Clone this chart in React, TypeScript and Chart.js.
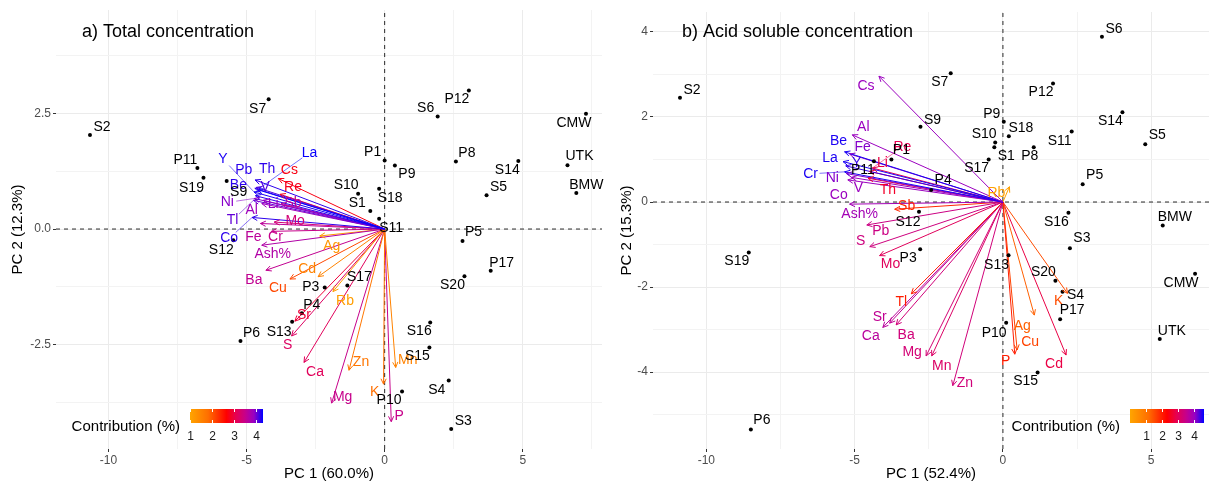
import React, { useEffect, useRef } from "react";
import { Chart, registerables } from "chart.js";
Chart.register(...registerables);

const FONT = "'Liberation Sans', Arial, Helvetica, sans-serif";

// ---------------- Panel a) Total concentration ----------------
const A_SAMPLE_NAMES = ["S2", "S7", "P11", "S19", "S9", "P1", "P9", "S10", "S18", "S1", "S11", "S12", "P3", "S17", "P4", "S13", "P6", "P10", "S16", "S15", "S4", "S3", "S20", "P17", "S6", "P12", "CMW", "P8", "S14", "UTK", "S5", "BMW", "P5"];
const A_SAMPLE_PC1 = [-10.67, -4.2, -6.78, -6.56, -5.72, 0.0, 0.37, -0.96, -0.2, -0.52, -0.2, -5.48, -2.17, -1.35, -3.0, -3.35, -5.22, 0.63, 1.65, 1.62, 2.32, 2.41, 2.89, 3.84, 1.92, 3.05, 7.29, 2.58, 4.84, 6.62, 3.69, 6.94, 2.82];
const A_SAMPLE_PC2 = [2.03, 2.8, 1.32, 1.11, 1.04, 1.48, 1.37, 0.76, 0.87, 0.39, 0.22, -0.24, -1.26, -1.22, -1.82, -2.0, -2.42, -3.51, -2.02, -2.56, -3.27, -4.32, -1.02, -0.9, 2.43, 2.99, 2.49, 1.46, 1.47, 1.38, 0.73, 0.78, -0.26];
const A_VAR_NAMES = ["La", "Y", "Pb", "Th", "Be", "V", "Ni", "Tl", "Co", "Al", "Li", "Sb", "Mo", "Fe", "Cr", "Cs", "Re", "Ash%", "Ag", "Cd", "Cu", "Ba", "Rb", "Sr", "S", "Ca", "Zn", "Mg", "K", "Mn", "P"];
const A_VAR_PC1 = [-4.6, -4.73, -4.7, -4.69, -4.68, -4.65, -4.72, -4.75, -4.8, -4.45, -4.4, -3.75, -4.0, -4.5, -4.1, -3.85, -3.79, -4.45, -2.35, -2.41, -3.43, -4.3, -1.87, -3.25, -3.37, -2.92, -1.29, -1.92, -0.04, 0.4, 0.24];
const A_VAR_PC2 = [0.85, 0.8, 0.88, 1.06, 0.72, 0.9, 0.66, 0.62, 0.25, 0.55, 0.62, 0.55, 0.15, 0.12, -0.05, 1.09, 0.75, -0.35, -0.15, -1.03, -1.08, -0.89, -1.35, -1.99, -2.31, -2.88, -3.05, -3.76, -3.35, -2.99, -4.16];
const A_VAR_CONTRIB = [4.3, 4.25, 4.2, 4.2, 4.2, 4.1, 3.95, 4.05, 4.2, 3.85, 3.9, 3.6, 3.35, 3.6, 3.5, 2.75, 2.8, 3.7, 1.2, 1.5, 2.1, 3.55, 1.1, 2.95, 3.2, 3.15, 1.7, 3.5, 1.8, 1.5, 3.5];
const A_X_TICKS = [-10, -7.5, -5, -2.5, 0, 2.5, 5, 7.5];
const A_X_MAJOR = [-10, -5, 0, 5];
const A_Y_TICKS = [-3.75, -2.5, -1.25, 0, 1.25, 2.5, 3.75];
const A_Y_MAJOR = [-2.5, 0, 2.5];
const A_LEGEND_TICKS = [1, 2, 3, 4];
const A_CONTRIB_RANGE = [0.98, 4.32];

// ---------------- Panel b) Acid soluble concentration ----------------
const B_SAMPLE_NAMES = ["S2", "S7", "S9", "P9", "S18", "S10", "S1", "S17", "P8", "S11", "P12", "S6", "S14", "S5", "P5", "S16", "BMW", "S3", "S13", "S20", "S4", "P17", "CMW", "UTK", "P10", "S15", "S19", "P6", "P11", "P1", "P4", "S12", "P3"];
const B_SAMPLE_PC1 = [-10.89, -1.76, -2.78, 0.03, 0.2, -0.26, -0.29, -0.48, 1.04, 2.32, 1.69, 3.34, 4.03, 4.8, 2.69, 2.21, 5.39, 2.26, 0.19, 1.77, 2.01, 1.93, 6.48, 5.29, 0.11, 1.17, -8.57, -8.5, -4.35, -3.76, -2.42, -2.83, -2.79];
const B_SAMPLE_PC2 = [2.45, 3.03, 1.77, 1.89, 1.55, 1.4, 1.29, 1.0, 1.29, 1.66, 2.79, 3.89, 2.11, 1.36, 0.42, -0.25, -0.55, -1.09, -1.25, -1.85, -2.11, -2.76, -1.69, -3.22, -2.84, -4.01, -1.19, -5.35, 0.96, 1.0, 0.28, -0.23, -1.11];
const B_VAR_NAMES = ["Cs", "Al", "Be", "Fe", "La", "Y", "Cr", "Ni", "V", "Co", "Re", "Li", "Th", "Ash%", "Sb", "Pb", "S", "Mo", "Tl", "Sr", "Ca", "Ba", "Mg", "Mn", "Zn", "P", "Cu", "Ag", "Cd", "K", "Rb"];
const B_VAR_PC1 = [-4.18, -5.08, -5.34, -5.17, -5.39, -5.3, -5.34, -5.28, -5.11, -5.23, -4.4, -4.5, -4.55, -5.17, -3.65, -4.59, -4.49, -4.16, -3.09, -3.82, -4.05, -3.6, -2.59, -2.4, -1.69, 0.4, 0.48, 1.06, 2.13, 2.18, 0.22];
const B_VAR_PC2 = [2.96, 1.58, 1.18, 1.13, 0.95, 0.85, 0.71, 0.67, 0.58, 0.52, 0.8, 0.72, 0.56, -0.05, -0.17, -0.54, -1.05, -1.26, -2.16, -2.85, -2.95, -2.89, -3.62, -3.62, -4.32, -3.58, -3.48, -2.66, -3.6, -2.15, 0.36];
const B_VAR_CONTRIB = [4.0, 4.0, 4.5, 4.1, 4.5, 4.4, 4.5, 4.1, 4.0, 4.0, 2.9, 2.8, 2.6, 3.9, 1.9, 3.4, 3.35, 3.0, 2.0, 3.55, 3.65, 3.3, 3.25, 3.1, 3.3, 2.0, 1.6, 1.3, 2.8, 1.5, 0.1];
const B_X_TICKS = [-10, -7.5, -5, -2.5, 0, 2.5, 5];
const B_X_MAJOR = [-10, -5, 0, 5];
const B_Y_TICKS = [-5, -4, -3, -2, -1, 0, 1, 2, 3, 4];
const B_Y_MAJOR = [-4, -2, 0, 2, 4];
const B_LEGEND_TICKS = [1, 2, 3, 4];
const B_CONTRIB_RANGE = [0.0, 4.6];

// ---------------- layout (label nudges in pixels, not data) ----------------
const A_SAMPLE_NUDGE: Record<string, [number, number]> = {
  S2: [12, -8], S7: [-11, 10], P11: [-12, -8], S19: [-12, 11], S9: [12, 11], P1: [-12, -8], P9: [12, 9],
  S10: [-12, -9], S18: [11, 9], S1: [-13, -8], S11: [12, 9], S12: [-12, 10], P3: [-14, 0], S17: [12, -8],
  P4: [10, -8], S13: [-13, 10], P6: [11, -8], P10: [-13, 9], S16: [-11, 9], S15: [-12, 9], S4: [-12, 10],
  S3: [12, -8], S20: [-12, 9], P17: [11, -8], S6: [-12, -8], P12: [-12, 9], CMW: [-12, 9], P8: [11, -8],
  S14: [-11, 9], UTK: [12, -9], S5: [12, -8], BMW: [10, -8], P5: [11, -9],
};
const A_VAR_NUDGE: Record<string, [number, number]> = {
  La: [52, -37], Y: [-31, -33], Pb: [-11, -18], Th: [12, -11], Be: [-17, -11], V: [9, 0], Ni: [-27, 4],
  Tl: [-21, 20], Co: [-23, 21], Al: [-10, 7], Li: [10, 4], Sb: [12, 0], Mo: [21, -1], Fe: [-7, 14],
  Cr: [4, 6], Cs: [11, -8], Re: [13, -7], "Ash%": [11, 9], Ag: [12, 10], Cd: [-11, -8], Cu: [-12, 9],
  Ba: [-12, 10], Rb: [12, 10], Sr: [9, -6], S: [-4, 9], Ca: [11, 10], Zn: [12, -8], Mg: [11, -6],
  K: [-9, 8], Mn: [12, -7], P: [8, -6],
};
const B_SAMPLE_NUDGE: Record<string, [number, number]> = {
  S2: [12, -8], S7: [-11, 9], S9: [12, -7], P9: [-12, -8], S18: [12, -8], S10: [-11, -8], S1: [12, 9],
  S17: [-12, 9], P8: [-4, 9], S11: [-12, 10], P12: [-12, 9], S6: [12, -8], S14: [-12, 9], S5: [12, -9],
  P5: [12, -9], S16: [-12, 9], BMW: [12, -8], S3: [12, -10], S13: [-12, 10], S20: [-12, -9], S4: [13, 3],
  P17: [12, -9], CMW: [-14, 9], UTK: [12, -8], P10: [-12, 10], S15: [-12, 9], S19: [-12, 9], P6: [11, -9],
  P11: [-11, 9], P1: [10, -9], P4: [12, -10], S12: [-11, 10], P3: [-12, 9],
};
const B_VAR_NUDGE: Record<string, [number, number]> = {
  Cs: [-13, 10], Al: [11, -8], Be: [-6, -11], Fe: [13, -7], La: [-13, -3], Y: [11, -3], Cr: [-34, 2],
  Ni: [-14, 5], V: [7, 11], Co: [-9, 15], Re: [30, -21], Li: [13, -8], Th: [20, 12], "Ash%": [10, 10],
  Sb: [12, -3], Pb: [14, 6], S: [-9, -6], Mo: [11, 9], Tl: [-10, 8], Sr: [-10, -6], Ca: [-12, 9],
  Ba: [10, 10], Mg: [-14, -4], Mn: [10, 10], Zn: [12, -3], P: [-9, 7], Cu: [13, -8], Ag: [-12, 11],
  Cd: [-12, 9], K: [-9, 8], Rb: [-13, 6],
};

// ---------------- colour scale ----------------
const STOPS: [number, [number, number, number]][] = [
  [0, [255, 165, 0]],
  [0.25, [255, 110, 0]],
  [0.5, [255, 0, 0]],
  [0.625, [231, 0, 79]],
  [0.75, [200, 0, 136]],
  [0.875, [153, 0, 194]],
  [1, [0, 0, 255]],
];
function colorAt(t: number): string {
  const tt = Math.max(0, Math.min(1, t));
  for (let i = 1; i < STOPS.length; i++) {
    if (tt <= STOPS[i][0]) {
      const [t0, c0] = STOPS[i - 1];
      const [t1, c1] = STOPS[i];
      const f = (tt - t0) / (t1 - t0);
      const c = c0.map((v, k) => Math.round(v + (c1[k] - v) * f));
      return `rgb(${c[0]},${c[1]},${c[2]})`;
    }
  }
  return "rgb(0,0,255)";
}

type Panel = {
  key: string;
  width: number;
  title: string;
  titleX: number;
  xTitle: string;
  yTitle: string;
  xMin: number; xMax: number; yMin: number; yMax: number;
  xTicks: number[]; xMajor: number[]; yTicks: number[]; yMajor: number[];
  yDecimals: number;
  padTop: number; padRight: number; yAxisWidth: number; xAxisHeight: number; yTitlePad: number;
  sampleNames: string[]; samplePC1: number[]; samplePC2: number[];
  varNames: string[]; varPC1: number[]; varPC2: number[]; varContrib: number[];
  sampleNudge: Record<string, [number, number]>;
  varNudge: Record<string, [number, number]>;
  connectors: string[];
  cRange: number[];
  legendTicks: number[];
  legendBox: { x0: number; x1: number; y0: number; y1: number };
};

const PANEL_A: Panel = {
  key: "a", width: 606, title: "a) Total concentration", titleX: 82,
  xTitle: "PC 1 (60.0%)", yTitle: "PC 2 (12.3%)",
  xMin: -11.9, xMax: 7.87, yMin: -4.75, yMax: 4.73,
  xTicks: A_X_TICKS, xMajor: A_X_MAJOR, yTicks: A_Y_TICKS, yMajor: A_Y_MAJOR, yDecimals: 1,
  padTop: 10, padRight: 3, yAxisWidth: 56, xAxisHeight: 34, yTitlePad: 9,
  sampleNames: A_SAMPLE_NAMES, samplePC1: A_SAMPLE_PC1, samplePC2: A_SAMPLE_PC2,
  varNames: A_VAR_NAMES, varPC1: A_VAR_PC1, varPC2: A_VAR_PC2, varContrib: A_VAR_CONTRIB,
  sampleNudge: A_SAMPLE_NUDGE, varNudge: A_VAR_NUDGE,
  connectors: ["La", "Y", "Ni", "Tl", "Co"],
  cRange: A_CONTRIB_RANGE, legendTicks: A_LEGEND_TICKS,
  legendBox: { x0: 190, x1: 263, y0: 409, y1: 423 },
};

const PANEL_B: Panel = {
  key: "b", width: 607, title: "b) Acid soluble concentration", titleX: 76,
  xTitle: "PC 1 (52.4%)", yTitle: "PC 2 (15.3%)",
  xMin: -11.8, xMax: 6.95, yMin: -5.81, yMax: 4.47,
  xTicks: B_X_TICKS, xMajor: B_X_MAJOR, yTicks: B_Y_TICKS, yMajor: B_Y_MAJOR, yDecimals: 0,
  padTop: 12, padRight: 2, yAxisWidth: 47, xAxisHeight: 34, yTitlePad: 12,
  sampleNames: B_SAMPLE_NAMES, samplePC1: B_SAMPLE_PC1, samplePC2: B_SAMPLE_PC2,
  varNames: B_VAR_NAMES, varPC1: B_VAR_PC1, varPC2: B_VAR_PC2, varContrib: B_VAR_CONTRIB,
  sampleNudge: B_SAMPLE_NUDGE, varNudge: B_VAR_NUDGE,
  connectors: ["Cr", "Re"],
  cRange: B_CONTRIB_RANGE, legendTicks: B_LEGEND_TICKS,
  legendBox: { x0: 524, x1: 598, y0: 409, y1: 423 },
};

function contribColor(p: Panel, v: number) {
  return colorAt((v - p.cRange[0]) / (p.cRange[1] - p.cRange[0]));
}

function isMajor(list: number[], v: number) {
  return list.some((m) => Math.abs(m - v) < 1e-9);
}

function makePlugin(p: Panel) {
  return {
    id: "biplot_" + p.key,
    afterDatasetsDraw(chart: any) {
      const ctx = chart.ctx as CanvasRenderingContext2D;
      ctx.save();
      p.varNames.forEach((name, i) => {
        const meta = chart.getDatasetMeta(1 + i);
        const a = meta.data[0];
        const b = meta.data[1];
        const col = contribColor(p, p.varContrib[i]);
        const ang = Math.atan2(b.y - a.y, b.x - a.x);
        const L = 6;
        const spread = 0.45;
        ctx.strokeStyle = col;
        ctx.lineWidth = 1;
        ctx.beginPath();
        ctx.moveTo(b.x - L * Math.cos(ang - spread), b.y - L * Math.sin(ang - spread));
        ctx.lineTo(b.x, b.y);
        ctx.lineTo(b.x - L * Math.cos(ang + spread), b.y - L * Math.sin(ang + spread));
        ctx.stroke();
        const nd = p.varNudge[name] || [0, 0];
        const lx = b.x + nd[0];
        const ly = b.y + nd[1];
        if (p.connectors.includes(name)) {
          const dx = b.x - lx;
          const dy = b.y - ly;
          const d = Math.hypot(dx, dy);
          const s = Math.min(9, d * 0.4) / d;
          ctx.lineWidth = 0.7;
          ctx.globalAlpha = 0.8;
          ctx.beginPath();
          ctx.moveTo(lx + dx * s, ly + dy * s);
          ctx.lineTo(b.x, b.y);
          ctx.stroke();
          ctx.globalAlpha = 1;
        }
        ctx.fillStyle = col;
        ctx.font = `14px ${FONT}`;
        ctx.textAlign = "center";
        ctx.textBaseline = "middle";
        ctx.fillText(name, lx, ly);
      });
      const sm = chart.getDatasetMeta(0);
      ctx.fillStyle = "#000";
      ctx.font = `14px ${FONT}`;
      ctx.textAlign = "center";
      ctx.textBaseline = "middle";
      p.sampleNames.forEach((name, i) => {
        const pt = sm.data[i];
        const nd = p.sampleNudge[name] || [0, 0];
        ctx.fillText(name, pt.x + nd[0], pt.y + nd[1]);
      });
      ctx.restore();
    },
    afterDraw(chart: any) {
      const ctx = chart.ctx as CanvasRenderingContext2D;
      ctx.save();
      ctx.fillStyle = "#000";
      ctx.font = `18px ${FONT}`;
      ctx.textAlign = "left";
      ctx.textBaseline = "middle";
      ctx.fillText(p.title, p.titleX, 32);
      const { x0, x1, y0, y1 } = p.legendBox;
      const g = ctx.createLinearGradient(x0, 0, x1, 0);
      for (let k = 0; k <= 40; k++) g.addColorStop(k / 40, colorAt(k / 40));
      ctx.fillStyle = g;
      ctx.fillRect(x0, y0, x1 - x0, y1 - y0);
      const [c0, c1] = p.cRange;
      ctx.strokeStyle = "#fff";
      ctx.lineWidth = 1;
      ctx.fillStyle = "#1a1a1a";
      ctx.font = `12px ${FONT}`;
      ctx.textAlign = "center";
      ctx.textBaseline = "middle";
      p.legendTicks.forEach((v) => {
        const x = Math.round(x0 + ((v - c0) / (c1 - c0)) * (x1 - x0)) + 0.5;
        ctx.beginPath();
        ctx.moveTo(x, y0);
        ctx.lineTo(x, y0 + 3);
        ctx.moveTo(x, y1 - 3);
        ctx.lineTo(x, y1);
        ctx.stroke();
        ctx.fillText(String(v), x, 437);
      });
      ctx.fillStyle = "#000";
      ctx.font = `15px ${FONT}`;
      ctx.textAlign = "right";
      ctx.fillText("Contribution (%)", x0 - 10, 427);
      ctx.restore();
    },
  };
}

function buildConfig(p: Panel): any {
  const datasets: any[] = [];
  datasets.push({
    label: "samples",
    data: p.sampleNames.map((_, i) => ({ x: p.samplePC1[i], y: p.samplePC2[i] })),
    pointRadius: 2,
    pointBackgroundColor: "#000",
    pointBorderWidth: 0,
    showLine: false,
  });
  p.varNames.forEach((name, i) => {
    datasets.push({
      label: name,
      data: [
        { x: 0, y: 0 },
        { x: p.varPC1[i], y: p.varPC2[i] },
      ],
      showLine: true,
      borderColor: contribColor(p, p.varContrib[i]),
      borderWidth: 1,
      pointRadius: 0,
      fill: false,
    });
  });
  datasets.push({
    label: "h0",
    data: [
      { x: p.xMin, y: 0 },
      { x: p.xMax, y: 0 },
    ],
    showLine: true,
    borderColor: "#2b2b2b",
    borderWidth: 1,
    borderDash: [4, 4],
    pointRadius: 0,
  });
  datasets.push({
    label: "v0",
    data: [
      { x: 0, y: p.yMin },
      { x: 0, y: p.yMax },
    ],
    showLine: true,
    borderColor: "#2b2b2b",
    borderWidth: 1,
    borderDash: [4, 4],
    pointRadius: 0,
  });

  const gridColor = (major: number[]) => (c: any) =>
    c.tick && isMajor(major, c.tick.value) ? "#EBEBEB" : "#F3F3F3";
  const tickColor = (major: number[]) => (c: any) =>
    c.tick && isMajor(major, c.tick.value) ? "#333333" : "rgba(0,0,0,0)";

  return {
    type: "scatter",
    data: { datasets },
    options: {
      responsive: false,
      animation: false,
      devicePixelRatio: 1,
      events: [],
      layout: { padding: { top: p.padTop, right: p.padRight, left: 0, bottom: 0 } },
      plugins: { legend: { display: false }, tooltip: { enabled: false } },
      scales: {
        x: {
          type: "linear",
          position: "bottom",
          min: p.xMin,
          max: p.xMax,
          afterBuildTicks: (s: any) => {
            s.ticks = p.xTicks.map((v) => ({ value: v }));
          },
          afterFit: (s: any) => {
            s.height = p.xAxisHeight;
          },
          border: { display: false },
          grid: { color: gridColor(p.xMajor), lineWidth: 1, tickLength: 3, tickColor: tickColor(p.xMajor) },
          ticks: {
            autoSkip: false,
            maxRotation: 0,
            padding: 1,
            color: "#4D4D4D",
            font: { family: FONT, size: 12 },
            callback: (v: number) => (isMajor(p.xMajor, v) ? String(v) : ""),
          },
          title: {
            display: true,
            text: p.xTitle,
            color: "#000",
            font: { family: FONT, size: 15 },
            padding: { top: 0, bottom: 0 },
          },
        },
        y: {
          type: "linear",
          position: "left",
          min: p.yMin,
          max: p.yMax,
          afterBuildTicks: (s: any) => {
            s.ticks = p.yTicks.map((v) => ({ value: v }));
          },
          afterFit: (s: any) => {
            s.width = p.yAxisWidth;
          },
          border: { display: false },
          grid: { color: gridColor(p.yMajor), lineWidth: 1, tickLength: 3, tickColor: tickColor(p.yMajor) },
          ticks: {
            autoSkip: false,
            padding: 2,
            color: "#4D4D4D",
            font: { family: FONT, size: 12 },
            callback: (v: number) => (isMajor(p.yMajor, v) ? v.toFixed(p.yDecimals) : ""),
          },
          title: {
            display: true,
            text: p.yTitle,
            color: "#000",
            font: { family: FONT, size: 15 },
            padding: { top: p.yTitlePad, bottom: 0 },
          },
        },
      },
    },
    plugins: [makePlugin(p)],
  };
}

function Biplot({ panel, left }: { panel: Panel; left: number }) {
  const ref = useRef<HTMLCanvasElement | null>(null);
  useEffect(() => {
    if (!ref.current) return;
    const chart = new Chart(ref.current, buildConfig(panel));
    return () => chart.destroy();
  }, [panel]);
  return (
    <canvas
      ref={ref}
      width={panel.width}
      height={483}
      style={{ position: "absolute", left, top: 0, width: panel.width, height: 483 }}
    />
  );
}

export default function App() {
  return (
    <div style={{ position: "absolute", left: 0, top: 0, width: 1213, height: 483, background: "#fff", overflow: "hidden" }}>
      <Biplot panel={PANEL_A} left={0} />
      <Biplot panel={PANEL_B} left={606} />
    </div>
  );
}
